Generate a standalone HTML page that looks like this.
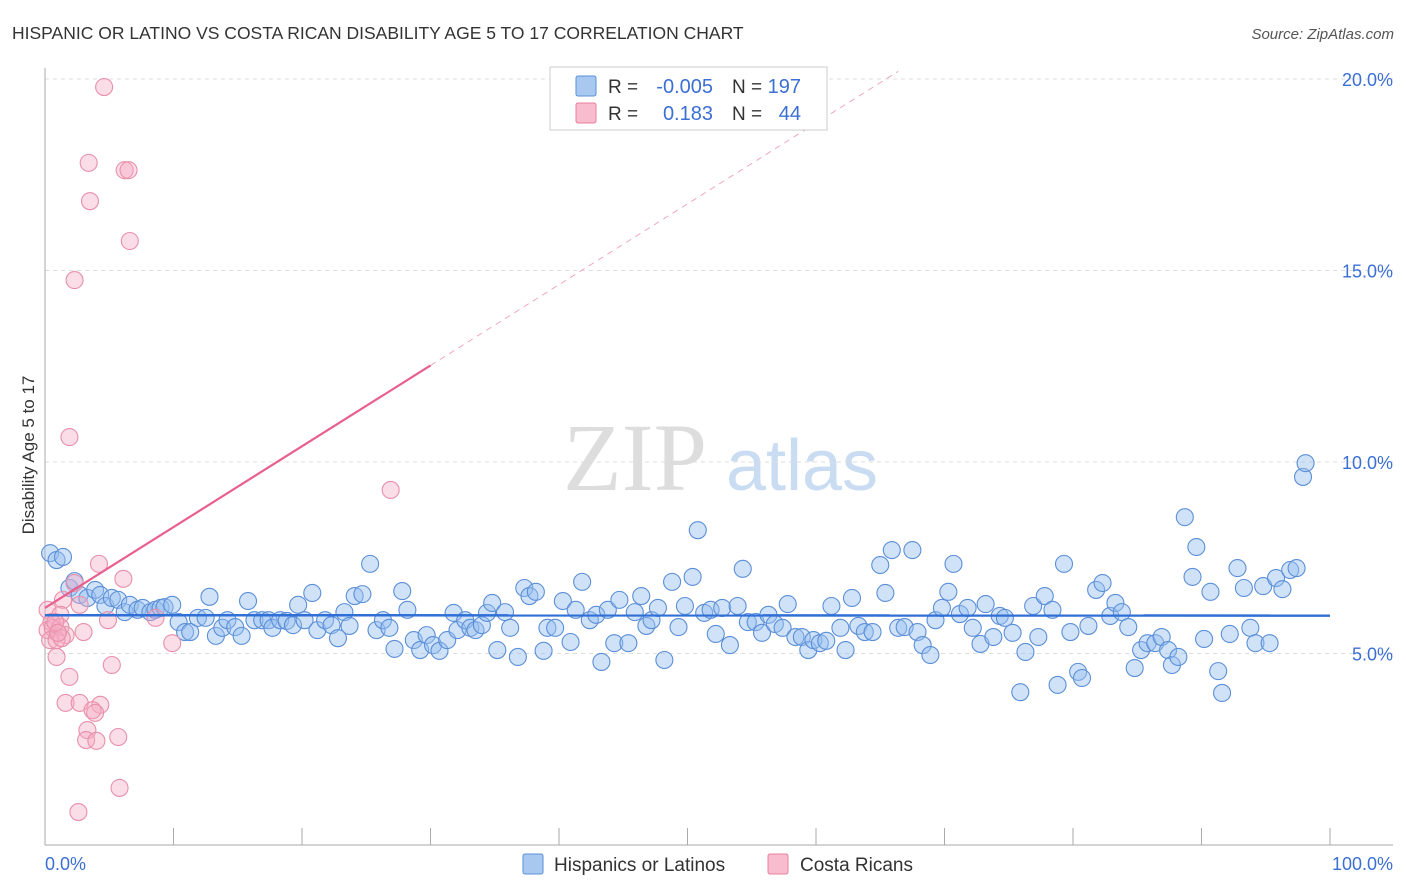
<!DOCTYPE html>
<html><head><meta charset="utf-8"><style>
body{margin:0;background:#fff;font-family:"Liberation Sans",sans-serif}
svg{display:block}
</style></head><body>
<svg id="chart" width="1406" height="892">
<text x="12" y="39" font-size="17.5" fill="#333">HISPANIC OR LATINO VS COSTA RICAN DISABILITY AGE 5 TO 17 CORRELATION CHART</text>
<text x="1394" y="39" font-size="15" fill="#555" font-style="italic" text-anchor="end">Source: ZipAtlas.com</text>
<g>
<text x="635" y="490" font-size="96" fill="#ddd" font-family="Liberation Serif,serif" text-anchor="middle">ZIP</text>
<text x="802" y="490" font-size="72" fill="#c9dcf2" text-anchor="middle">atlas</text>
</g>
<g id="grid"></g>
<g id="axes"></g>
<g id="pts"></g>
<g id="trends"></g>
<text transform="translate(34,455) rotate(-90)" font-size="17" fill="#333" text-anchor="middle">Disability Age 5 to 17</text>
<text x="45" y="870" font-size="18" fill="#3b6fd4">0.0%</text>
<text x="1393" y="870" font-size="18" fill="#3b6fd4" text-anchor="end">100.0%</text>
<g>
<rect x="550" y="67" width="277" height="63" fill="#fff" stroke="#ccc"/>
<rect x="576" y="76" width="20" height="20" fill="#a8c8f0" stroke="#5b8fd8" rx="2"/>
<rect x="576" y="103" width="20" height="20" fill="#f7bccd" stroke="#e87fa0" rx="2"/>
<text x="608" y="93" font-size="19" fill="#333">R = </text><text x="713" y="93" font-size="20" fill="#3b6fd4" text-anchor="end">-0.005</text>
<text x="732" y="93" font-size="19" fill="#333">N = </text><text x="801" y="93" font-size="20" fill="#3b6fd4" text-anchor="end">197</text>
<text x="608" y="120" font-size="19" fill="#333">R = </text><text x="713" y="120" font-size="20" fill="#3b6fd4" text-anchor="end">0.183</text>
<text x="732" y="120" font-size="19" fill="#333">N = </text><text x="801" y="120" font-size="20" fill="#3b6fd4" text-anchor="end">44</text>
</g>
<g>
<rect x="523" y="854" width="20" height="20" fill="#a8c8f0" stroke="#5b8fd8" rx="2"/>
<text x="554" y="871" font-size="19" fill="#333">Hispanics or Latinos</text>
<rect x="768" y="854" width="20" height="20" fill="#f7bccd" stroke="#e87fa0" rx="2"/>
<text x="800" y="871" font-size="19" fill="#333">Costa Ricans</text>
</g>
</svg>
<script>
const yTicks=[5,10,15,20];
const yTickLabels=["5.0%","10.0%","15.0%","20.0%"];
const xTicks=[0,10,20,30,40,50,60,70,80,90,100];
const blueX=[0.4,0.9,1.4,1.9,2.3,2.7,3.3,3.9,4.3,4.7,5.2,5.7,6.2,6.6,7.2,7.6,8.2,8.6,9.0,9.3,9.9,10.4,10.9,11.3,11.9,12.5,12.8,13.3,13.8,14.2,14.8,15.3,15.8,16.3,16.9,17.4,17.7,18.3,18.8,19.3,19.7,20.2,20.8,21.2,21.8,22.3,22.8,23.3,23.7,24.1,24.7,25.3,25.8,26.3,26.8,27.2,27.8,28.2,28.7,29.2,29.7,30.2,30.7,31.3,31.8,32.1,32.7,33.1,33.5,34.0,34.4,34.8,35.2,35.8,36.2,36.8,37.3,37.7,38.2,39.1,38.8,39.7,40.3,40.9,41.3,41.8,42.4,42.9,43.3,43.8,44.3,44.7,45.4,45.9,46.4,46.8,47.2,47.7,48.2,48.8,49.3,49.8,50.4,50.8,51.3,51.8,52.2,52.7,53.3,53.9,54.3,54.7,55.3,55.8,56.3,56.8,57.4,57.8,58.4,58.9,59.4,59.8,60.3,60.8,61.2,61.9,62.3,62.8,63.3,63.8,64.4,65.0,65.4,65.9,66.4,66.9,67.5,67.9,68.3,68.9,69.3,69.8,70.3,70.7,71.2,71.8,72.2,72.8,73.2,73.8,74.3,74.7,75.3,75.9,76.3,76.9,77.3,77.8,78.4,78.8,79.3,79.8,80.4,80.7,81.2,81.8,82.3,82.9,83.3,83.8,84.3,84.8,85.3,85.8,86.4,86.9,87.4,87.7,88.2,88.7,89.3,89.6,90.2,90.7,91.3,91.6,92.2,92.8,93.3,93.8,94.2,94.8,95.3,95.8,96.3,96.9,97.4,97.9,98.1];
const blueY=[7.62,7.44,7.52,6.71,6.89,6.53,6.45,6.66,6.53,6.24,6.45,6.40,6.08,6.27,6.14,6.19,6.08,6.14,6.19,6.21,6.27,5.82,5.56,5.56,5.93,5.93,6.48,5.46,5.67,5.87,5.69,5.46,6.37,5.87,5.87,5.87,5.67,5.87,5.85,5.74,6.27,5.87,6.58,5.61,5.87,5.74,5.40,6.08,5.72,6.50,6.55,7.34,5.61,5.87,5.67,5.12,6.63,6.14,5.35,5.09,5.48,5.22,5.07,5.35,6.06,5.61,5.87,5.67,5.61,5.74,6.06,6.32,5.09,6.08,5.67,4.91,6.71,6.50,6.61,5.67,5.07,5.67,6.37,5.30,6.14,6.87,5.87,6.01,4.78,6.14,5.27,6.40,5.27,6.08,6.50,5.72,5.87,6.19,4.83,6.87,5.69,6.24,7.00,8.22,6.06,6.14,5.51,6.19,5.22,6.24,7.21,5.82,5.82,5.54,6.01,5.77,5.67,6.29,5.43,5.43,5.09,5.35,5.27,5.33,6.24,5.67,5.09,6.45,5.72,5.56,5.56,7.31,6.58,7.70,5.67,5.69,7.70,5.56,5.22,4.96,5.87,6.19,6.61,7.34,6.03,6.19,5.67,5.25,6.29,5.43,5.98,5.93,5.54,3.99,5.04,6.24,5.43,6.50,6.14,4.18,7.34,5.56,4.52,4.36,5.72,6.66,6.84,5.98,6.32,6.08,5.69,4.62,5.09,5.27,5.27,5.43,5.09,4.70,4.91,8.56,7.00,7.78,5.38,6.61,4.54,3.97,5.51,7.23,6.71,5.67,5.27,6.76,5.27,6.97,6.68,7.18,7.23,9.61,9.97];
const pinkX=[4.6,3.4,6.2,6.5,3.5,6.6,2.3,1.9,26.9,4.2,6.1,2.3,1.4,2.7,0.2,1.2,0.5,4.9,8.6,0.2,0.6,1.2,1.6,3.0,0.4,0.9,1.3,9.9,5.2,0.9,1.9,1.6,2.7,4.3,3.7,3.9,3.3,5.7,3.2,4.0,5.8,2.6,0.8,1.0];
const pinkY=[19.79,17.81,17.62,17.62,16.81,15.77,14.75,10.65,9.27,7.34,6.95,6.84,6.40,6.27,6.14,6.01,5.82,5.87,5.93,5.61,5.67,5.69,5.48,5.56,5.35,5.35,5.40,5.27,4.70,4.91,4.39,3.71,3.71,3.66,3.52,3.45,3.00,2.82,2.74,2.72,1.49,0.86,5.82,5.54];
const blueTrend=[6.0,-0.0001];
const pinkTrend=[6.19,0.211];
const NS='http://www.w3.org/2000/svg';
const X=v=>45+v*12.85, Y=v=>845-v*38.3;
function mk(tag,attrs,parent){const e=document.createElementNS(NS,tag);for(const k in attrs)e.setAttribute(k,attrs[k]);document.getElementById(parent).appendChild(e);return e;}
yTicks.forEach((t,i)=>{
 const g=mk('line',{x1:45,x2:1393,y1:Y(t),y2:Y(t),stroke:'#ddd','stroke-dasharray':'4,4'},'grid');
 
 
 const l=mk('text',{x:1393,y:Y(t)+7,'font-size':18,fill:'#3b6fd4','text-anchor':'end'},'grid');
 l.textContent=yTickLabels[i];
 
 
});
const ax=mk('line',{x1:45,x2:1393,y1:845,y2:845,stroke:'#aaa'},'axes');


const ay=mk('line',{x1:45,x2:45,y1:68,y2:845,stroke:'#aaa'},'axes');


xTicks.forEach(t=>{
 const k=mk('line',{x1:X(t),x2:X(t),y1:828,y2:845,stroke:'#aaa'},'axes');
 
 
});
blueX.forEach((x,i)=>{
 const c=mk('circle',{cx:X(x),cy:Y(blueY[i]),r:8.5,fill:'rgba(150,190,240,0.45)',stroke:'#5b8fd8','stroke-width':1.1},'pts');
 
 
});
pinkX.forEach((x,i)=>{
 const c=mk('circle',{cx:X(x),cy:Y(pinkY[i]),r:8.5,fill:'rgba(245,170,195,0.4)',stroke:'#e890aa','stroke-width':1.1},'pts');
 
 
});
const bt=mk('line',{x1:X(0),x2:X(100),y1:Y(blueTrend[0]),y2:Y(blueTrend[0]+blueTrend[1]*100),stroke:'#2f6fd6','stroke-width':2.5},'trends');


const pe=(20.2-pinkTrend[0])/pinkTrend[1];
const pd=mk('line',{x1:X(30),x2:X(pe),y1:Y(pinkTrend[0]+pinkTrend[1]*30),y2:Y(20.2),stroke:'#f0a8c0','stroke-width':1,'stroke-dasharray':'6,5'},'trends');


const pt=mk('line',{x1:X(0),x2:X(30),y1:Y(pinkTrend[0]),y2:Y(pinkTrend[0]+pinkTrend[1]*30),stroke:'#e8608e','stroke-width':2.2},'trends');


</script>
</body></html>
